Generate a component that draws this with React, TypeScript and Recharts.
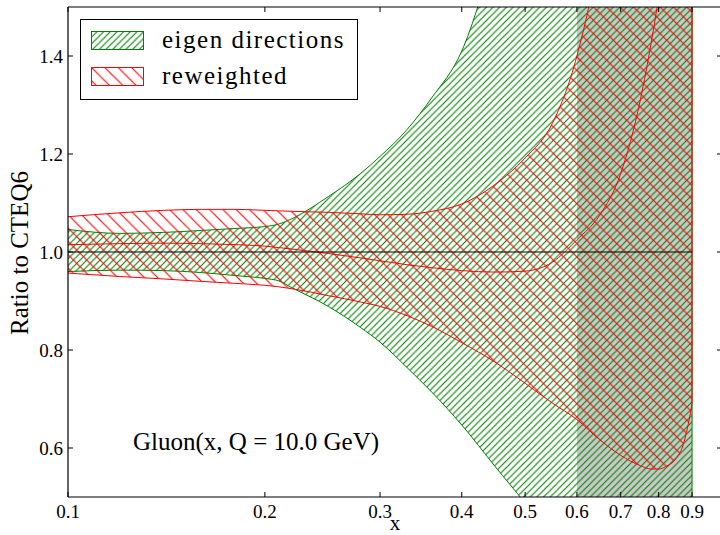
import React from 'react';
import { ComposedChart, Area, Line, XAxis, YAxis, Legend, ReferenceLine, Label } from 'recharts';

// ---- data ----
const xValues = [0.1, 0.12, 0.14, 0.16, 0.18, 0.2, 0.21, 0.22, 0.25, 0.28, 0.3, 0.33, 0.36, 0.4, 0.45, 0.5, 0.55, 0.6, 0.65, 0.7, 0.75, 0.78, 0.8, 0.82, 0.85, 0.87, 0.88, 0.89, 0.9];
const eigenHigh = [1.046, 1.038, 1.040, 1.044, 1.048, 1.052, 1.057, 1.068, 1.113, 1.160, 1.195, 1.25, 1.315, 1.41, 1.62, 1.85, 2.05, 2.25, 2.45, 2.7, 3.0, 3.2, 3.3, 3.45, 3.65, 3.8, 3.9, 3.95, 4.0];
const eigenLow = [0.960, 0.963, 0.962, 0.958, 0.952, 0.946, 0.941, 0.927, 0.889, 0.846, 0.816, 0.764, 0.714, 0.647, 0.562, 0.487, 0.41, 0.33, 0.26, 0.19, 0.12, 0.08, 0.05, 0.02, -0.02, -0.05, -0.06, -0.07, -0.08];
const reweightedHigh = [1.072, 1.080, 1.085, 1.087, 1.087, 1.085, 1.084, 1.083, 1.081, 1.078, 1.076, 1.077, 1.083, 1.098, 1.138, 1.192, 1.262, 1.40, 1.62, 1.95, 2.3, 2.5, 2.65, 2.8, 3.0, 3.15, 3.2, 3.25, 3.3];
const reweightedLow = [0.957, 0.950, 0.945, 0.940, 0.936, 0.932, 0.929, 0.925, 0.911, 0.898, 0.889, 0.870, 0.848, 0.815, 0.775, 0.732, 0.692, 0.658, 0.617, 0.585, 0.564, 0.557, 0.557, 0.562, 0.578, 0.602, 0.625, 0.655, 0.69];
const reweightedCentral = [1.015, 1.017, 1.018, 1.017, 1.015, 1.012, 1.009, 1.006, 0.997, 0.988, 0.982, 0.974, 0.968, 0.962, 0.959, 0.961, 0.979, 1.025, 1.075, 1.16, 1.31, 1.43, 1.52, 1.62, 1.75, 1.85, 1.9, 1.95, 2.0];
const unityLevel = 1.0;
const shadedFrom = 0.6;
const shadedTo = 0.9;

const xTicks = [0.1, 0.2, 0.3, 0.4, 0.5, 0.6, 0.7, 0.8, 0.9];
const yTicks = [0.6, 0.8, 1.0, 1.2, 1.4];
const xDomain = [0.1, 1.0];
const yDomain = [0.5, 1.5];

const seriesNames = { eigen: 'eigen directions', reweighted: 'reweighted' };
const annotation = 'Gluon(x, Q = 10.0 GeV)';
const xLabel = 'x';
const yLabel = 'Ratio to CTEQ6';

// ---- styles ----
const GREEN = '#008000';
const RED = '#ff0000';
const GREY = '#c9c9c9';
const FONT = '"Liberation Serif", "Times New Roman", serif';
const GS = 6.67;
const RS = 13.33;

const legendItems = [
  { label: seriesNames.eigen, pattern: 'hatchGreen', color: GREEN },
  { label: seriesNames.reweighted, pattern: 'hatchRed', color: RED },
];

const rows = xValues.map((x, i) => ({
  x,
  eigen: [eigenLow[i], eigenHigh[i]],
  reweighted: [reweightedLow[i], reweightedHigh[i]],
  central: reweightedCentral[i],
  unity: unityLevel,
  shade: x >= shadedFrom && x <= shadedTo ? [yDomain[0], yDomain[1]] : null,
}));

const lastIdx = xValues.length - 1;
const tickStyle = { fontFamily: FONT, fontSize: 19, fill: '#000' };

const renderLegend = () => (
  <div
    style={{
      position: 'relative',
      width: 278,
      height: 81,
      boxSizing: 'border-box',
      border: '1px solid #000',
      background: '#fff',
      fontFamily: FONT,
      fontSize: 25,
      color: '#000',
    }}
  >
    {legendItems.map((it, i) => (
      <React.Fragment key={it.label}>
        <svg width={53} height={19} style={{ position: 'absolute', left: 10, top: 11 + i * 36, display: 'block' }}>
          <rect x={0.5} y={0.5} width={52} height={18} fill={`url(#${it.pattern})`} stroke={it.color} strokeWidth={1} />
        </svg>
        <span
          style={{
            position: 'absolute',
            left: 81,
            top: 6 + i * 36,
            lineHeight: '28px',
            whiteSpace: 'nowrap',
            letterSpacing: '1.5px',
            fontFamily: FONT,
          }}
        >
          {it.label}
        </span>
      </React.Fragment>
    ))}
  </div>
);

export default function App() {
  return (
    <div style={{ position: 'absolute', left: 0, top: 0, width: 720, height: 535, overflow: 'hidden', background: '#fff' }}>
      <svg width={0} height={0} style={{ position: 'absolute' }}>
        <defs>
          <pattern id="hatchGreen" patternUnits="userSpaceOnUse" width={GS} height={GS}>
            <path
              d={`M0,${GS} L${GS},0 M${-GS / 2},${GS / 2} L${GS / 2},${-GS / 2} M${GS / 2},${GS * 1.5} L${GS * 1.5},${GS / 2}`}
              stroke={GREEN}
              strokeWidth={1.1}
            />
          </pattern>
          <pattern id="hatchRed" patternUnits="userSpaceOnUse" width={RS} height={RS}>
            <path
              d={`M0,0 L${RS},${RS} M${-RS / 2},${RS / 2} L${RS / 2},${RS * 1.5} M${RS / 2},${-RS / 2} L${RS * 1.5},${RS / 2}`}
              stroke={RED}
              strokeWidth={1.1}
            />
          </pattern>
        </defs>
      </svg>
      <ComposedChart width={760} height={535} data={rows} margin={{ top: 0, right: 8, bottom: 0, left: 0 }}>
        <XAxis
          dataKey="x"
          type="number"
          scale="log"
          domain={xDomain}
          allowDataOverflow
          ticks={xTicks}
          tickFormatter={(v) => Number(v).toFixed(1)}
          tick={tickStyle}
          tickSize={-5}
          tickMargin={13}
          height={38}
          axisLine={{ stroke: '#000', strokeWidth: 1.2 }}
          tickLine={{ stroke: '#000', strokeWidth: 1 }}
          interval={0}
        >
          <Label
            content={() => (
              <text x={395} y={530} textAnchor="middle" fontFamily={FONT} fontSize={21} fill="#000">
                {xLabel}
              </text>
            )}
          />
          <Label
            content={() => (
              <text x={133} y={450} textAnchor="start" fontFamily={FONT} fontSize={25} fill="#000">
                {annotation}
              </text>
            )}
          />
        </XAxis>
        <XAxis
          xAxisId="top"
          orientation="top"
          dataKey="x"
          type="number"
          scale="log"
          domain={xDomain}
          allowDataOverflow
          ticks={xTicks}
          tickFormatter={() => ''}
          tickSize={-5}
          height={7}
          axisLine={{ stroke: '#000', strokeWidth: 1.2 }}
          tickLine={{ stroke: '#000', strokeWidth: 1 }}
          interval={0}
        />
        <YAxis
          type="number"
          domain={yDomain}
          allowDataOverflow
          ticks={yTicks}
          tickFormatter={(v) => Number(v).toFixed(1)}
          tick={tickStyle}
          tickSize={-5}
          tickMargin={10}
          width={68}
          axisLine={{ stroke: '#000', strokeWidth: 1.2 }}
          tickLine={{ stroke: '#000', strokeWidth: 1 }}
          interval={0}
        >
          <Label
            content={() => (
              <text
                x={28}
                y={253}
                transform="rotate(-90, 28, 253)"
                textAnchor="middle"
                fontFamily={FONT}
                fontSize={25}
                fill="#000"
              >
                {yLabel}
              </text>
            )}
          />
        </YAxis>
        <YAxis
          yAxisId="right"
          orientation="right"
          type="number"
          domain={yDomain}
          allowDataOverflow
          ticks={yTicks}
          tickFormatter={() => ''}
          tickSize={-5}
          width={30}
          axisLine={{ stroke: '#000', strokeWidth: 1.2 }}
          tickLine={{ stroke: '#000', strokeWidth: 1 }}
          interval={0}
        />
        <Legend
          content={renderLegend}
          layout="vertical"
          align="center"
          verticalAlign="middle"
          wrapperStyle={{ left: 80, top: 19, width: 278, height: 81 }}
        />
        <Area
          dataKey="shade"
          type="linear"
          fill={GREY}
          fillOpacity={1}
          stroke="none"
          isAnimationActive={false}
          legendType="none"
          activeDot={false}
        />
        <Area
          name={seriesNames.eigen}
          dataKey="eigen"
          type="monotone"
          fill="url(#hatchGreen)"
          fillOpacity={1}
          stroke={GREEN}
          strokeWidth={1}
          isAnimationActive={false}
          activeDot={false}
        />
        <Area
          name={seriesNames.reweighted}
          dataKey="reweighted"
          type="monotone"
          fill="url(#hatchRed)"
          fillOpacity={1}
          stroke={RED}
          strokeWidth={1}
          isAnimationActive={false}
          activeDot={false}
        />
        <ReferenceLine
          segment={[{ x: xValues[lastIdx], y: yDomain[0] }, { x: xValues[lastIdx], y: yDomain[1] }]}
          stroke={GREEN}
          strokeWidth={1}
          ifOverflow="hidden"
        />
        <ReferenceLine
          segment={[{ x: xValues[lastIdx], y: reweightedLow[lastIdx] }, { x: xValues[lastIdx], y: yDomain[1] }]}
          stroke={RED}
          strokeWidth={1}
          ifOverflow="hidden"
        />
        <Line
          dataKey="central"
          type="monotone"
          stroke={RED}
          strokeWidth={1}
          dot={false}
          activeDot={false}
          isAnimationActive={false}
          legendType="none"
        />
        <Line
          dataKey="unity"
          type="linear"
          stroke="#000"
          strokeWidth={1}
          dot={false}
          activeDot={false}
          isAnimationActive={false}
          legendType="none"
        />
      </ComposedChart>
    </div>
  );
}
